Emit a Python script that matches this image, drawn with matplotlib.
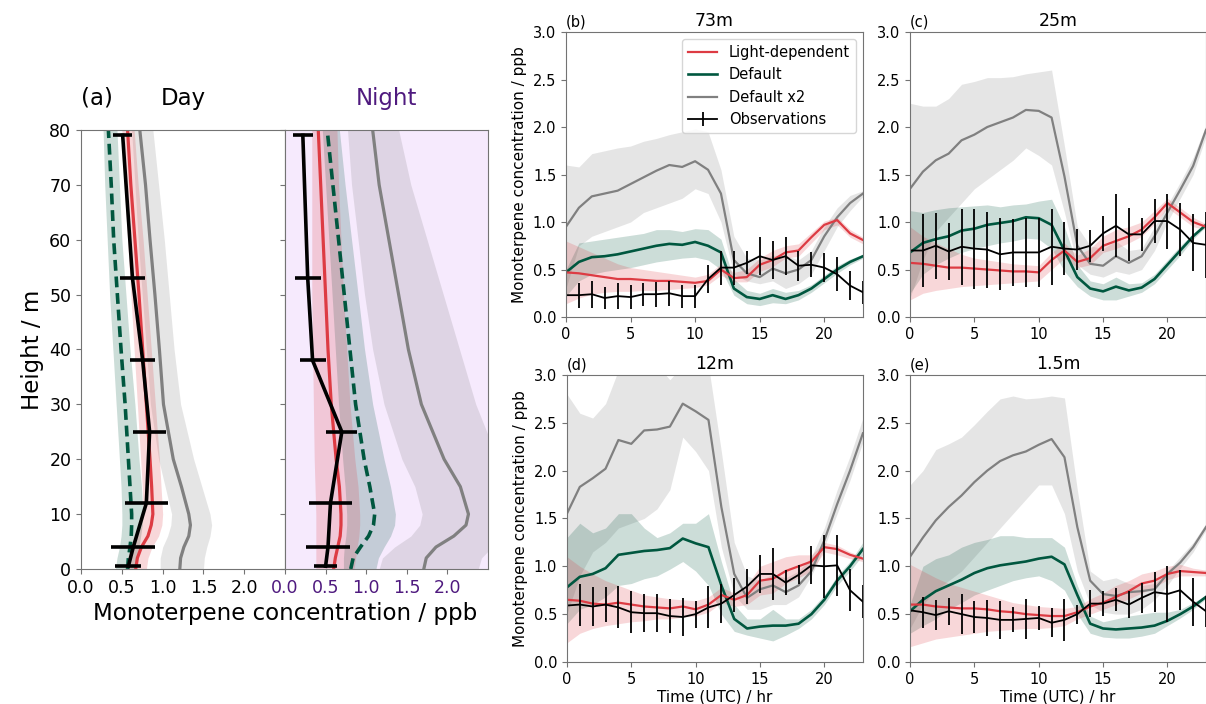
import numpy as np
import matplotlib
matplotlib.use('Agg')
import matplotlib.pyplot as plt

# ---- colours
RED = '#dd3b43'
GREEN = '#00573f'
GREY = '#808080'
PURPLE = '#4f1a7f'
NIGHT_BG = '#f6eafd'

# ---- (a) vertical profiles, heights in m
z_model = [0, 2, 4, 6, 8, 10, 15, 20, 30, 40, 50, 60, 70, 80]
z_obs = [79, 53, 38, 25, 12, 4, 0.5]

day_ld = [0.67, 0.69, 0.74, 0.82, 0.86, 0.88, 0.865, 0.845, 0.80, 0.755, 0.71, 0.66, 0.61, 0.57]
day_ld_lo = [0.55, 0.57, 0.61, 0.69, 0.74, 0.76, 0.75, 0.73, 0.69, 0.65, 0.61, 0.57, 0.53, 0.50]
day_ld_hi = [0.80, 0.82, 0.87, 0.95, 0.99, 1.00, 0.98, 0.96, 0.91, 0.86, 0.81, 0.76, 0.70, 0.65]
day_df = [0.57, 0.58, 0.60, 0.615, 0.62, 0.62, 0.60, 0.58, 0.54, 0.49, 0.445, 0.40, 0.37, 0.335]
day_df_lo = [0.42, 0.44, 0.47, 0.49, 0.50, 0.50, 0.49, 0.47, 0.43, 0.39, 0.35, 0.32, 0.29, 0.27]
day_df_hi = [0.68, 0.69, 0.71, 0.73, 0.75, 0.76, 0.74, 0.71, 0.66, 0.60, 0.55, 0.50, 0.47, 0.44]
day_d2 = [1.21, 1.22, 1.26, 1.32, 1.34, 1.32, 1.23, 1.13, 1.01, 0.96, 0.905, 0.845, 0.79, 0.72]
day_d2_lo = [0.97, 0.97, 1.00, 1.06, 1.10, 1.11, 1.03, 0.95, 0.85, 0.80, 0.75, 0.70, 0.66, 0.62]
day_d2_hi = [1.50, 1.51, 1.54, 1.58, 1.60, 1.58, 1.48, 1.38, 1.22, 1.14, 1.08, 1.02, 0.95, 0.88]
day_obs = [0.51, 0.63, 0.755, 0.84, 0.80, 0.64, 0.58]
day_obs_err = [0.12, 0.155, 0.155, 0.205, 0.26, 0.27, 0.16]

night_ld = [0.60, 0.62, 0.65, 0.68, 0.69, 0.69, 0.67, 0.63, 0.57, 0.53, 0.50, 0.47, 0.44, 0.41]
night_ld_lo = [0.38, 0.38, 0.38, 0.38, 0.38, 0.38, 0.37, 0.36, 0.35, 0.34, 0.33, 0.33, 0.33, 0.33]
night_ld_hi = [0.85, 0.87, 0.89, 0.91, 0.92, 0.92, 0.90, 0.86, 0.80, 0.76, 0.72, 0.69, 0.66, 0.64]
night_df = [0.81, 0.84, 0.93, 1.03, 1.09, 1.105, 1.045, 0.975, 0.87, 0.80, 0.73, 0.66, 0.59, 0.52]
night_df_lo = [0.72, 0.72, 0.73, 0.75, 0.76, 0.76, 0.74, 0.71, 0.66, 0.62, 0.58, 0.54, 0.50, 0.46]
night_df_hi = [1.12, 1.15, 1.22, 1.30, 1.35, 1.36, 1.30, 1.22, 1.08, 0.98, 0.90, 0.82, 0.74, 0.67]
night_d2 = [1.71, 1.74, 1.86, 2.08, 2.23, 2.26, 2.16, 1.96, 1.68, 1.52, 1.40, 1.28, 1.16, 1.08]
night_d2_lo = [1.16, 1.20, 1.35, 1.55, 1.66, 1.69, 1.60, 1.44, 1.22, 1.08, 0.98, 0.90, 0.82, 0.77]
night_d2_hi = [2.38, 2.42, 2.55, 2.72, 2.82, 2.85, 2.78, 2.62, 2.35, 2.15, 1.95, 1.75, 1.55, 1.40]
night_obs = [0.22, 0.28, 0.34, 0.70, 0.56, 0.53, 0.50]
night_obs_err = [0.12, 0.16, 0.16, 0.19, 0.265, 0.265, 0.14]

# ---- (b)-(e) diurnal cycles, hourly
hours = np.arange(24)

b_ld = [0.47, 0.46, 0.44, 0.42, 0.40, 0.40, 0.39, 0.38, 0.38, 0.37, 0.36, 0.38, 0.50, 0.41, 0.42, 0.55, 0.60, 0.68, 0.70, 0.84, 0.97, 1.02, 0.88, 0.81]
b_ld_lo = [0.14, 0.20, 0.24, 0.26, 0.27, 0.27, 0.28, 0.28, 0.29, 0.30, 0.31, 0.34, 0.44, 0.37, 0.37, 0.48, 0.53, 0.62, 0.64, 0.78, 0.92, 0.97, 0.84, 0.77]
b_ld_hi = [0.80, 0.74, 0.68, 0.62, 0.56, 0.52, 0.50, 0.48, 0.46, 0.44, 0.42, 0.45, 0.56, 0.47, 0.50, 0.62, 0.70, 0.75, 0.77, 0.89, 1.01, 1.05, 0.92, 0.84]
b_df = [0.47, 0.58, 0.63, 0.64, 0.66, 0.69, 0.72, 0.75, 0.77, 0.76, 0.79, 0.75, 0.68, 0.30, 0.21, 0.19, 0.23, 0.19, 0.23, 0.30, 0.40, 0.50, 0.58, 0.64]
b_df_lo = [0.22, 0.38, 0.45, 0.48, 0.50, 0.52, 0.55, 0.58, 0.60, 0.62, 0.63, 0.60, 0.50, 0.23, 0.14, 0.12, 0.15, 0.14, 0.18, 0.26, 0.36, 0.46, 0.55, 0.62]
b_df_hi = [0.50, 0.78, 0.80, 0.82, 0.84, 0.86, 0.88, 0.92, 0.92, 0.90, 0.93, 0.92, 0.82, 0.40, 0.28, 0.25, 0.30, 0.26, 0.28, 0.34, 0.44, 0.54, 0.61, 0.66]
b_d2 = [0.95, 1.15, 1.27, 1.30, 1.33, 1.40, 1.47, 1.54, 1.60, 1.58, 1.64, 1.55, 1.30, 0.60, 0.46, 0.42, 0.51, 0.46, 0.50, 0.60, 0.85, 1.05, 1.20, 1.30]
b_d2_lo = [0.30, 0.75, 0.85, 0.90, 0.95, 1.00, 1.10, 1.15, 1.20, 1.25, 1.35, 1.30, 1.00, 0.45, 0.38, 0.35, 0.38, 0.30, 0.35, 0.45, 0.70, 0.95, 1.12, 1.27]
b_d2_hi = [1.60, 1.58, 1.72, 1.75, 1.78, 1.80, 1.85, 1.88, 1.92, 1.95, 1.98, 1.95, 1.55, 0.85, 0.62, 0.60, 0.65, 0.65, 0.60, 0.70, 0.95, 1.15, 1.28, 1.33]
b_obs = [0.23, 0.23, 0.24, 0.20, 0.22, 0.21, 0.24, 0.24, 0.25, 0.22, 0.22, 0.40, 0.52, 0.52, 0.57, 0.64, 0.60, 0.64, 0.54, 0.55, 0.52, 0.45, 0.33, 0.26]
b_err = [0.13, 0.14, 0.12, 0.14, 0.13, 0.12, 0.13, 0.13, 0.12, 0.12, 0.15, 0.18, 0.18, 0.12, 0.20, 0.20, 0.20, 0.16, 0.13, 0.15, 0.18, 0.15, 0.12]

c_ld = [0.57, 0.56, 0.54, 0.52, 0.52, 0.51, 0.50, 0.49, 0.48, 0.48, 0.47, 0.60, 0.70, 0.58, 0.62, 0.75, 0.80, 0.85, 0.92, 1.05, 1.20, 1.10, 1.00, 0.95]
c_ld_lo = [0.18, 0.25, 0.28, 0.30, 0.32, 0.33, 0.34, 0.35, 0.36, 0.37, 0.38, 0.50, 0.62, 0.52, 0.55, 0.68, 0.72, 0.78, 0.85, 0.98, 1.15, 1.05, 0.95, 0.92]
c_ld_hi = [0.95, 0.85, 0.78, 0.72, 0.66, 0.62, 0.60, 0.58, 0.56, 0.55, 0.54, 0.68, 0.78, 0.65, 0.72, 0.85, 0.92, 0.95, 1.00, 1.12, 1.25, 1.15, 1.05, 0.98]
c_df = [0.68, 0.78, 0.82, 0.85, 0.91, 0.93, 0.97, 0.99, 1.01, 1.05, 1.04, 0.97, 0.70, 0.42, 0.30, 0.27, 0.32, 0.28, 0.31, 0.40, 0.55, 0.70, 0.85, 0.97]
c_df_lo = [0.25, 0.45, 0.55, 0.62, 0.68, 0.72, 0.75, 0.78, 0.80, 0.83, 0.82, 0.72, 0.48, 0.32, 0.22, 0.18, 0.18, 0.22, 0.26, 0.35, 0.50, 0.65, 0.82, 0.95]
c_df_hi = [1.12, 1.10, 1.13, 1.15, 1.16, 1.17, 1.18, 1.16, 1.18, 1.19, 1.22, 1.24, 0.95, 0.55, 0.38, 0.35, 0.42, 0.35, 0.36, 0.45, 0.60, 0.75, 0.88, 0.98]
c_d2 = [1.35, 1.53, 1.65, 1.72, 1.86, 1.92, 2.00, 2.05, 2.10, 2.18, 2.17, 2.10, 1.48, 0.75, 0.56, 0.54, 0.64, 0.57, 0.64, 0.85, 1.10, 1.34, 1.59, 1.97]
c_d2_lo = [0.20, 0.60, 0.90, 1.05, 1.20, 1.35, 1.45, 1.55, 1.65, 1.78, 1.70, 1.60, 1.10, 0.55, 0.45, 0.42, 0.48, 0.45, 0.50, 0.70, 1.00, 1.25, 1.50, 1.90]
c_d2_hi = [2.25, 2.22, 2.22, 2.30, 2.45, 2.48, 2.52, 2.52, 2.53, 2.56, 2.58, 2.60, 1.80, 0.95, 0.75, 0.72, 0.80, 0.70, 0.72, 0.95, 1.18, 1.42, 1.68, 2.02]
c_obs = [0.70, 0.70, 0.75, 0.69, 0.74, 0.72, 0.71, 0.66, 0.68, 0.68, 0.68, 0.74, 0.72, 0.71, 0.75, 0.88, 0.96, 0.87, 0.87, 1.01, 1.01, 0.92, 0.78, 0.76]
c_err = [0.38, 0.35, 0.30, 0.40, 0.42, 0.40, 0.38, 0.35, 0.36, 0.36, 0.40, 0.28, 0.22, 0.17, 0.18, 0.33, 0.28, 0.17, 0.23, 0.29, 0.28, 0.30, 0.35]

d_ld = [0.65, 0.64, 0.61, 0.60, 0.62, 0.60, 0.58, 0.57, 0.56, 0.58, 0.55, 0.60, 0.70, 0.65, 0.70, 0.85, 0.87, 0.95, 1.00, 1.05, 1.20, 1.18, 1.12, 1.08]
d_ld_lo = [0.20, 0.30, 0.35, 0.38, 0.40, 0.42, 0.43, 0.45, 0.45, 0.47, 0.48, 0.52, 0.62, 0.58, 0.60, 0.70, 0.72, 0.82, 0.88, 0.95, 1.15, 1.12, 1.08, 1.05]
d_ld_hi = [1.10, 1.00, 0.92, 0.85, 0.80, 0.75, 0.70, 0.68, 0.66, 0.65, 0.64, 0.68, 0.78, 0.72, 0.80, 1.00, 1.05, 1.10, 1.12, 1.12, 1.25, 1.22, 1.15, 1.10]
d_df = [0.78, 0.89, 0.92, 0.98, 1.12, 1.14, 1.16, 1.17, 1.19, 1.29, 1.24, 1.20, 0.80, 0.45, 0.35, 0.37, 0.38, 0.38, 0.40, 0.50, 0.65, 0.85, 1.00, 1.18]
d_df_lo = [0.40, 0.55, 0.60, 0.68, 0.80, 0.82, 0.87, 0.90, 0.97, 1.05, 0.95, 0.80, 0.50, 0.32, 0.28, 0.25, 0.22, 0.28, 0.35, 0.45, 0.60, 0.80, 0.95, 1.12]
d_df_hi = [1.30, 1.45, 1.35, 1.40, 1.55, 1.55, 1.40, 1.30, 1.35, 1.45, 1.45, 1.55, 1.05, 0.60, 0.45, 0.45, 0.55, 0.45, 0.45, 0.55, 0.70, 0.90, 1.05, 1.25]
d_d2 = [1.55, 1.83, 1.92, 2.02, 2.32, 2.28, 2.42, 2.43, 2.46, 2.70, 2.62, 2.53, 1.62, 0.92, 0.67, 0.76, 0.80, 0.73, 0.80, 0.95, 1.27, 1.65, 2.00, 2.39]
d_d2_lo = [0.50, 0.90, 1.15, 1.25, 1.40, 1.45, 1.50, 1.60, 1.80, 2.35, 2.20, 2.00, 1.20, 0.70, 0.55, 0.55, 0.60, 0.60, 0.68, 0.90, 1.20, 1.55, 1.90, 2.30]
d_d2_hi = [2.80, 2.60, 2.55, 2.70, 3.05, 3.10, 3.10, 3.10, 2.95, 3.10, 3.10, 3.10, 2.20, 1.25, 0.90, 0.85, 0.92, 0.88, 0.95, 1.10, 1.40, 1.80, 2.15, 2.55]
d_obs = [0.59, 0.60, 0.58, 0.60, 0.57, 0.52, 0.51, 0.51, 0.48, 0.47, 0.50, 0.57, 0.61, 0.70, 0.79, 0.92, 0.92, 0.83, 0.91, 1.01, 1.00, 1.01, 0.75, 0.63]
d_err = [0.22, 0.20, 0.18, 0.22, 0.22, 0.20, 0.20, 0.18, 0.20, 0.14, 0.22, 0.20, 0.18, 0.18, 0.20, 0.27, 0.13, 0.10, 0.20, 0.33, 0.32, 0.22, 0.17]

e_ld = [0.60, 0.60, 0.58, 0.57, 0.56, 0.56, 0.55, 0.53, 0.52, 0.50, 0.49, 0.48, 0.48, 0.52, 0.58, 0.62, 0.68, 0.74, 0.82, 0.85, 0.92, 0.95, 0.94, 0.93]
e_ld_lo = [0.16, 0.20, 0.24, 0.26, 0.28, 0.30, 0.32, 0.33, 0.34, 0.35, 0.35, 0.36, 0.38, 0.45, 0.50, 0.55, 0.60, 0.66, 0.72, 0.78, 0.86, 0.90, 0.90, 0.90]
e_ld_hi = [1.02, 0.95, 0.88, 0.82, 0.78, 0.74, 0.70, 0.66, 0.62, 0.60, 0.58, 0.57, 0.56, 0.58, 0.66, 0.72, 0.80, 0.85, 0.92, 0.95, 1.00, 1.02, 0.98, 0.96]
e_df = [0.53, 0.65, 0.74, 0.80, 0.86, 0.93, 0.98, 1.01, 1.03, 1.05, 1.08, 1.10, 1.02, 0.70, 0.40, 0.35, 0.34, 0.35, 0.36, 0.38, 0.43, 0.50, 0.58, 0.68]
e_df_lo = [0.30, 0.38, 0.45, 0.55, 0.62, 0.70, 0.75, 0.80, 0.85, 0.88, 0.90, 0.85, 0.75, 0.50, 0.30, 0.26, 0.25, 0.25, 0.27, 0.30, 0.38, 0.46, 0.55, 0.66]
e_df_hi = [0.60, 1.00, 1.08, 1.12, 1.20, 1.25, 1.28, 1.32, 1.32, 1.30, 1.30, 1.30, 1.20, 0.80, 0.48, 0.42, 0.45, 0.48, 0.50, 0.52, 0.52, 0.55, 0.62, 0.70]
e_d2 = [1.10, 1.30, 1.48, 1.62, 1.74, 1.88, 2.00, 2.10, 2.16, 2.20, 2.27, 2.33, 2.14, 1.41, 0.85, 0.71, 0.69, 0.73, 0.74, 0.76, 0.92, 1.04, 1.20, 1.41]
e_d2_lo = [0.35, 0.60, 0.75, 0.85, 0.95, 1.10, 1.25, 1.40, 1.55, 1.70, 1.85, 1.85, 1.55, 0.95, 0.60, 0.52, 0.50, 0.50, 0.55, 0.65, 0.80, 0.98, 1.15, 1.38]
e_d2_hi = [1.85, 2.00, 2.22, 2.28, 2.35, 2.48, 2.62, 2.75, 2.78, 2.75, 2.76, 2.78, 2.76, 1.80, 0.95, 0.85, 0.88, 0.82, 0.80, 0.82, 0.95, 1.10, 1.25, 1.45]
e_obs = [0.54, 0.52, 0.49, 0.53, 0.50, 0.47, 0.46, 0.44, 0.44, 0.45, 0.46, 0.41, 0.44, 0.50, 0.61, 0.61, 0.65, 0.60, 0.67, 0.73, 0.71, 0.75, 0.63, 0.53]
e_err = [0.16, 0.16, 0.14, 0.21, 0.17, 0.19, 0.20, 0.13, 0.21, 0.13, 0.15, 0.22, 0.10, 0.14, 0.13, 0.12, 0.14, 0.16, 0.21, 0.29, 0.21, 0.25, 0.16]

panel_letters = ['(b)', '(c)', '(d)', '(e)']
panel_heights = ['73m', '25m', '12m', '1.5m']
legend_labels = ['Light-dependent', 'Default', 'Default x2', 'Observations']

SPINE = '0.45'


def profile_panel(ax, ld, ld_lo, ld_hi, df, df_lo, df_hi, d2, d2_lo, d2_hi, obs, obs_err):
    ax.fill_betweenx(z_model, d2_lo, d2_hi, color=GREY, alpha=0.2, lw=0)
    ax.fill_betweenx(z_model, df_lo, df_hi, color=GREEN, alpha=0.2, lw=0)
    ax.fill_betweenx(z_model, ld_lo, ld_hi, color=RED, alpha=0.2, lw=0)
    ax.plot(d2, z_model, color=GREY, lw=2.3)
    ax.plot(df, z_model, color=GREEN, lw=2.6, dashes=(3, 1.6))
    ax.plot(ld, z_model, color=RED, lw=2.3)
    ax.errorbar(obs, z_obs, xerr=obs_err, color='k', lw=2.6, elinewidth=2.6, capsize=0)
    ax.set_xlim(0, 2.5)
    ax.set_ylim(0, 80)
    ax.set_xticks([0, 0.5, 1.0, 1.5, 2.0])
    ax.set_yticks(range(0, 81, 10))
    ax.tick_params(labelsize=12.5, color=SPINE)
    for s in ax.spines.values():
        s.set_color(SPINE)


def ts_panel(ax, letter, height, ld, ld_lo, ld_hi, df, df_lo, df_hi, d2, d2_lo, d2_hi, obs, err):
    ax.fill_between(hours, d2_lo, d2_hi, color=GREY, alpha=0.2, lw=0)
    ax.fill_between(hours, df_lo, df_hi, color=GREEN, alpha=0.2, lw=0)
    ax.fill_between(hours, ld_lo, ld_hi, color=RED, alpha=0.2, lw=0)
    l_d2, = ax.plot(hours, d2, color=GREY, lw=1.6)
    l_df, = ax.plot(hours, df, color=GREEN, lw=1.9)
    l_ld, = ax.plot(hours, ld, color=RED, lw=1.6)
    # no error bar drawn at hour 0
    eb = ax.errorbar(hours, obs, yerr=np.r_[0, err], errorevery=(1, 1),
                     color='k', lw=1.3, elinewidth=1.3, capsize=0)
    ax.set_xlim(0, 23)
    ax.set_ylim(0, 3)
    ax.set_xticks([0, 5, 10, 15, 20])
    ax.set_yticks(np.arange(0, 3.01, 0.5))
    ax.tick_params(labelsize=10.5, color=SPINE)
    for s in ax.spines.values():
        s.set_color(SPINE)
    ax.set_title(height, fontsize=12.5, pad=4)
    ax.set_title(letter, loc='left', fontsize=10.5, pad=4)
    return [l_ld, l_df, l_d2, eb]


fig = plt.figure(figsize=(12.06, 7.04), dpi=100)

# (a) Day / Night
ax_day = fig.add_axes([0.0672, 0.1918, 0.1692, 0.6236])
ax_night = fig.add_axes([0.2363, 0.1918, 0.1683, 0.6236], facecolor=NIGHT_BG)

profile_panel(ax_day, day_ld, day_ld_lo, day_ld_hi, day_df, day_df_lo, day_df_hi,
              day_d2, day_d2_lo, day_d2_hi, day_obs, day_obs_err)
profile_panel(ax_night, night_ld, night_ld_lo, night_ld_hi, night_df, night_df_lo, night_df_hi,
              night_d2, night_d2_lo, night_d2_hi, night_obs, night_obs_err)

ax_day.set_title('Day', fontsize=16.5, pad=18)
ax_day.set_title('(a)', loc='left', fontsize=16.5, pad=18)
ax_day.set_ylabel('Height / m', fontsize=16.5)
ax_night.set_title('Night', fontsize=16.5, pad=18, color=PURPLE)
ax_night.tick_params(labelleft=False)
ax_night.tick_params(axis='x', labelcolor=PURPLE)
fig.text(0.2363, 0.128, 'Monoterpene concentration / ppb', ha='center', va='center', fontsize=16.5)

# (b)-(e) time series
rects = [[0.4693, 0.5497, 0.2463, 0.4048],
         [0.7546, 0.5497, 0.2454, 0.4048],
         [0.4701, 0.0597, 0.2454, 0.4077],
         [0.7546, 0.0597, 0.2454, 0.4077]]
series = [(b_ld, b_ld_lo, b_ld_hi, b_df, b_df_lo, b_df_hi, b_d2, b_d2_lo, b_d2_hi, b_obs, b_err),
          (c_ld, c_ld_lo, c_ld_hi, c_df, c_df_lo, c_df_hi, c_d2, c_d2_lo, c_d2_hi, c_obs, c_err),
          (d_ld, d_ld_lo, d_ld_hi, d_df, d_df_lo, d_df_hi, d_d2, d_d2_lo, d_d2_hi, d_obs, d_err),
          (e_ld, e_ld_lo, e_ld_hi, e_df, e_df_lo, e_df_hi, e_d2, e_d2_lo, e_d2_hi, e_obs, e_err)]

ts_axes = []
for rect, letter, height, s in zip(rects, panel_letters, panel_heights, series):
    ax = fig.add_axes(rect)
    handles = ts_panel(ax, letter, height, *s)
    ts_axes.append((ax, handles))

ax_b, h_b = ts_axes[0]
ax_b.legend(h_b, legend_labels, loc='upper right', fontsize=10.5)
for ax, _ in (ts_axes[0], ts_axes[2]):
    ax.set_ylabel('Monoterpene concentration / ppb', fontsize=11)
for ax, _ in (ts_axes[2], ts_axes[3]):
    ax.set_xlabel('Time (UTC) / hr', fontsize=11, labelpad=2)

fig.savefig('out.png', dpi=100)
